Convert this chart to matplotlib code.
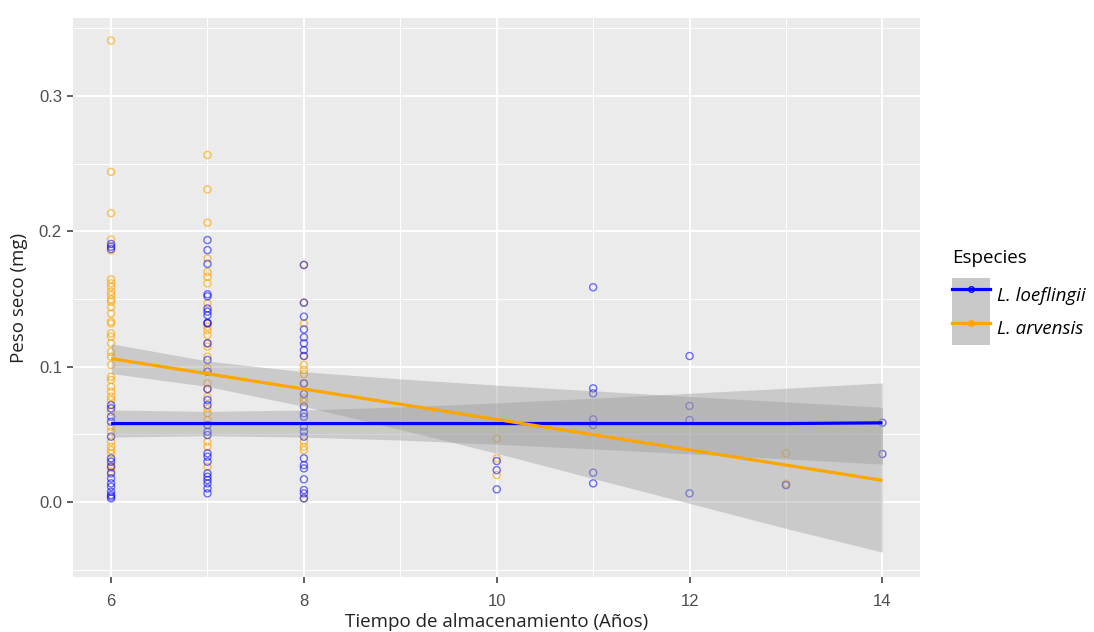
import matplotlib
matplotlib.use("Agg")
import matplotlib.pyplot as plt
from matplotlib.lines import Line2D
from matplotlib.patches import Patch
import numpy as np

# ---------------- data ----------------
# L. loeflingii (blue) observations by storage time
loef_6 = [0.1907, 0.1887, 0.187, 0.0717, 0.0692, 0.063, 0.0593, 0.0483, 0.0323, 0.0298,
          0.0261, 0.0212, 0.0175, 0.0138, 0.0113, 0.0076, 0.0052, 0.0027, 0.0040]
loef_7 = [0.1936, 0.1862, 0.176, 0.1535, 0.152, 0.143, 0.138, 0.1325, 0.1407, 0.132, 0.1173,
          0.105, 0.0963, 0.0835, 0.0754, 0.0717, 0.0569, 0.052, 0.0495, 0.036, 0.0335, 0.0298,
          0.0212, 0.0187, 0.0163, 0.0138, 0.0101, 0.0064]
loef_8 = [0.1752, 0.1473, 0.137, 0.1276, 0.1217, 0.1173, 0.1123, 0.1079, 0.0877, 0.0798,
          0.0704, 0.0656, 0.063, 0.0557, 0.052, 0.0483, 0.0323, 0.0273, 0.0249, 0.0168,
          0.0089, 0.0064, 0.0027]
loef_10 = [0.0303, 0.0236, 0.0094]
loef_11 = [0.1587, 0.084, 0.0803, 0.0611, 0.0569, 0.0217, 0.0138]
loef_12 = [0.1079, 0.071, 0.0606, 0.0064]
loef_13 = [0.0125]
loef_14 = [0.0586, 0.0355]

# L. arvensis (orange) observations by storage time
arv_6 = [0.341, 0.244, 0.2135, 0.194, 0.186, 0.1646, 0.1616, 0.159, 0.1554, 0.153, 0.1498,
         0.148, 0.144, 0.1394, 0.1333, 0.132, 0.1247, 0.1222, 0.1173, 0.111, 0.1074, 0.1013,
         0.0926, 0.0902, 0.0852, 0.0815, 0.0778, 0.0754, 0.0668, 0.0557, 0.052, 0.0446,
         0.0409, 0.0384, 0.036, 0.0273, 0.0224, 0.0250]
arv_7 = [0.2565, 0.231, 0.2064, 0.18, 0.170, 0.1665, 0.1616, 0.1468, 0.1296, 0.132, 0.127,
         0.1234, 0.1173, 0.1148, 0.1074, 0.0988, 0.0877, 0.0835, 0.0778, 0.0692, 0.0656,
         0.0606, 0.0446, 0.0409, 0.0261]
arv_8 = [0.1752, 0.1473, 0.132, 0.1079, 0.1013, 0.0976, 0.0946, 0.0877, 0.0766, 0.0741,
         0.0446, 0.0409, 0.0384, 0.0027]
arv_10 = [0.047, 0.0323, 0.020]
arv_13 = [0.036, 0.0135]

loef_x = [6]*len(loef_6) + [7]*len(loef_7) + [8]*len(loef_8) + [10]*len(loef_10) + \
         [11]*len(loef_11) + [12]*len(loef_12) + [13]*len(loef_13) + [14]*len(loef_14)
loef_y = loef_6 + loef_7 + loef_8 + loef_10 + loef_11 + loef_12 + loef_13 + loef_14
arv_x = [6]*len(arv_6) + [7]*len(arv_7) + [8]*len(arv_8) + [10]*len(arv_10) + [13]*len(arv_13)
arv_y = arv_6 + arv_7 + arv_8 + arv_10 + arv_13

# fitted lines and confidence bands (read at each year)
fit_x = [6, 7, 8, 9, 10, 11, 12, 13, 14]
loef_fit = [0.058, 0.058, 0.058, 0.058, 0.058, 0.058, 0.058, 0.058, 0.0585]
loef_lo = [0.048, 0.049, 0.048, 0.0458, 0.0427, 0.0393, 0.0356, 0.0319, 0.028]
loef_hi = [0.068, 0.067, 0.068, 0.0703, 0.0733, 0.0767, 0.0804, 0.0841, 0.088]
arv_fit = [0.106, 0.0948, 0.0835, 0.0723, 0.061, 0.0498, 0.0385, 0.0273, 0.016]
arv_lo = [0.095, 0.0854, 0.0707, 0.0536, 0.0360, 0.0174, -0.001, -0.0195, -0.037]
arv_hi = [0.117, 0.1042, 0.0963, 0.0910, 0.0864, 0.0822, 0.078, 0.074, 0.070]

x_ticks = [6, 8, 10, 12, 14]
y_ticks = [0.0, 0.1, 0.2, 0.3]
y_tick_labels = ["0.0", "0.1", "0.2", "0.3"]
species = ["L. loeflingii", "L. arvensis"]

BLUE = "#0000FF"
ORANGE = "#FFA500"

# ---------------- figure ----------------
fig = plt.figure(figsize=(10.94, 6.32), dpi=100)
ax = fig.add_axes([73/1094, 1 - 577/632, (920-73)/1094, (577-18)/632])
ax.set_facecolor("#EBEBEB")

ax.set_xlim(5.605, 14.39)
ax.set_ylim(-0.0554, 0.3577)

ax.set_xticks(x_ticks)
ax.set_xticks([7, 9, 11, 13], minor=True)
ax.set_yticks(y_ticks)
ax.set_yticklabels(y_tick_labels)
ax.set_yticks([-0.05, 0.05, 0.15, 0.25, 0.35], minor=True)
ax.grid(which="major", color="white", linewidth=1.4)
ax.grid(which="minor", color="white", linewidth=0.7)
ax.set_axisbelow(True)
for s in ax.spines.values():
    s.set_visible(False)
ax.tick_params(which="major", length=4, width=1.1, color="#333333",
               labelcolor="#4D4D4D", labelsize=12, pad=4)
ax.tick_params(axis="x", which="major", pad=8)
ax.tick_params(which="minor", length=0)
for lab in ax.get_xticklabels() + ax.get_yticklabels():
    lab.set_family("Liberation Sans")

# points
ax.scatter(arv_x, arv_y, s=26, facecolors="none", edgecolors=ORANGE, linewidths=1.0,
           alpha=0.65, zorder=2)
ax.scatter(loef_x, loef_y, s=26, facecolors="none", edgecolors=BLUE, linewidths=1.0,
           alpha=0.55, zorder=2)

# confidence bands
ax.fill_between(fit_x, loef_lo, loef_hi, color="#999999", alpha=0.4, linewidth=0, zorder=3)
ax.fill_between(fit_x, arv_lo, arv_hi, color="#999999", alpha=0.4, linewidth=0, zorder=3)

# fitted lines
ax.plot(fit_x, loef_fit, color=BLUE, linewidth=2.3, zorder=4, solid_capstyle="butt")
ax.plot(fit_x, arv_fit, color=ORANGE, linewidth=2.3, zorder=4, solid_capstyle="butt")

ax.set_xlabel("Tiempo de almacenamiento (Años)", fontsize=13.5, family="Open Sans",
              color="#222222", labelpad=3)
ax.set_ylabel("Peso seco (mg)", fontsize=13.5, family="Open Sans", color="#222222",
              labelpad=8)

# legend
bg = Patch(facecolor="#C8C8C8", edgecolor="none")
h1 = (bg, Line2D([], [], color=BLUE, lw=2.3, marker="o", markersize=4,
                 markerfacecolor="none", markeredgecolor=BLUE))
h2 = (bg, Line2D([], [], color=ORANGE, lw=2.3, marker="o", markersize=4,
                 markerfacecolor="none", markeredgecolor=ORANGE))
leg = fig.legend([h1, h2], species, loc="upper left", bbox_to_anchor=(952/1094, 1 - 249/632),
                 frameon=False, title="Especies", handlelength=2.0, handleheight=2.38,
                 handletextpad=0.4, labelspacing=0.0, borderaxespad=0, borderpad=0,
                 prop={"family": "Open Sans", "style": "italic", "size": 13.5},
                 title_fontproperties={"family": "Open Sans", "size": 13.5})
leg._legend_box.align = "left"
leg._legend_box.sep = 8

fig.savefig("out.png", dpi=100)
